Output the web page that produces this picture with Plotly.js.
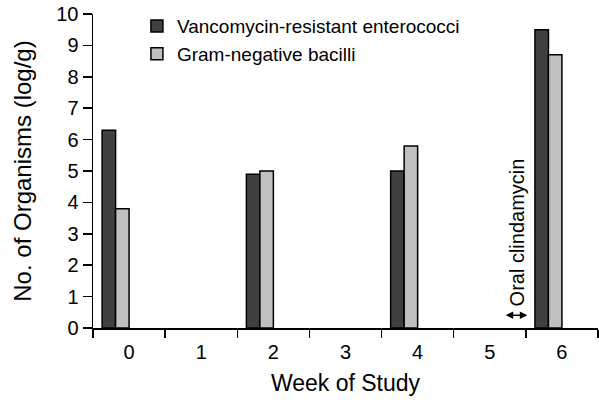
<!DOCTYPE html>
<html>
<head>
<meta charset="utf-8">
<script src="https://cdn.plot.ly/plotly-3.0.1.min.js"></script>
<style>html,body{margin:0;padding:0;background:#fff;}#chart{width:599px;height:402px;}</style>
</head>
<body>
<div id="chart"></div>
<script>
const weeks = [0, 1, 2, 3, 4, 5, 6];
const weekLabels = ['0', '1', '2', '3', '4', '5', '6'];
const vreValues = [6.3, null, 4.9, null, 5.0, null, 9.5];
const gnbValues = [3.8, null, 5.0, null, 5.8, null, 8.7];
const seriesNames = ['Vancomycin-resistant enterococci', 'Gram-negative bacilli'];
const yTicks = [0, 1, 2, 3, 4, 5, 6, 7, 8, 9, 10];
const weekBoundaries = [-0.5, 0.5, 1.5, 2.5, 3.5, 4.5, 5.5, 6.5];
const noteText = 'Oral clindamycin';

const FONT = 'Liberation Sans, Arial, Helvetica, sans-serif';
const barW = 0.187;

const traces = [
  {type: 'bar', x: weeks, y: vreValues, name: seriesNames[0],
   width: barW, offset: -2 * barW,
   marker: {color: '#404040', line: {color: '#000', width: 1.5}}},
  {type: 'bar', x: weeks, y: gnbValues, name: seriesNames[1],
   width: barW, offset: -barW,
   marker: {color: '#c0c0c0', line: {color: '#000', width: 1.5}}}
];

const layout = {
  width: 599, height: 402,
  margin: {l: 93, r: 1, t: 14, b: 74},
  paper_bgcolor: '#fff', plot_bgcolor: '#fff',
  font: {family: FONT, color: '#000'},
  barmode: 'overlay',
  showlegend: true,
  legend: {x: 0.087, y: 1.022, xanchor: 'left', yanchor: 'top',
           font: {family: FONT, size: 19, color: '#000'},
           bgcolor: 'rgba(0,0,0,0)', tracegroupgap: 0},
  xaxis: {
    range: [-0.5, 6.5], tickmode: 'array', tickvals: weeks, ticktext: weekLabels,
    ticks: 'outside', ticklen: 5, tickcolor: 'rgba(0,0,0,0)',
    tickfont: {family: FONT, size: 20, color: '#000'},
    showline: true, linecolor: '#000', linewidth: 1.5, showgrid: false, zeroline: false,
    minor: {tickmode: 'array', tickvals: weekBoundaries, ticks: 'outside', ticklen: 8,
            tickwidth: 1.5, tickcolor: '#000', showgrid: false},
    title: {text: 'Week of Study', font: {family: FONT, size: 23, color: '#000'}, standoff: 13}
  },
  yaxis: {
    range: [0, 10], tickmode: 'array', tickvals: yTicks,
    ticks: 'outside', ticklen: 9, tickwidth: 1.5, tickcolor: '#000',
    tickfont: {family: FONT, size: 20, color: '#000'},
    showline: true, linecolor: '#000', linewidth: 1.5, showgrid: false, zeroline: false,
    title: {text: 'No. of Organisms (log/g)', font: {family: FONT, size: 24, color: '#000'}, standoff: 18}
  },
  annotations: [
    {x: 5.38, y: 3.05, xref: 'x', yref: 'y', text: noteText, textangle: -90,
     showarrow: false, font: {family: FONT, size: 20, color: '#000'}},
    {x: 5.52, y: 0.41, ax: 5.2, ay: 0.41, xref: 'x', yref: 'y', axref: 'x', ayref: 'y',
     text: '', showarrow: true, arrowside: 'end+start', arrowhead: 2, arrowsize: 1,
     arrowwidth: 1.5, arrowcolor: '#000'}
  ]
};

Plotly.newPlot('chart', traces, layout, {displayModeBar: false, staticPlot: true});
</script>
</body>
</html>
